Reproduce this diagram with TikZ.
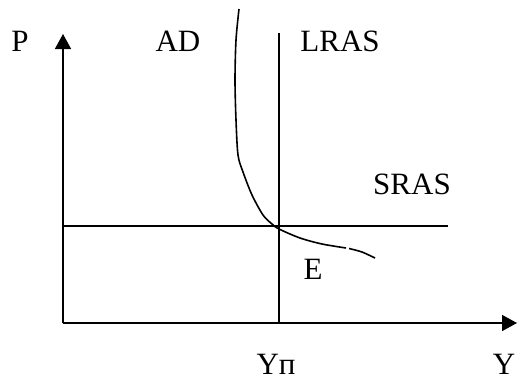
\documentclass[tikz,border=0pt]{standalone}
\usepackage{fontspec}
\setmainfont{Liberation Serif}
\usepackage{tikz}
\usetikzlibrary{arrows.meta}

\tikzset{
  lbl/.style={anchor=base, inner sep=0pt, font=\fontsize{31}{36}\selectfont},
  axis/.style={line width=1.6pt, -{Triangle[length=15pt,width=16pt]}},
  plain/.style={line width=1.6pt},
  adcurve/.style={line width=1.6pt}
}

\begin{document}
\begin{tikzpicture}[x=1pt,y=-1pt]
\useasboundingbox (0,0) rectangle (517,381);

% axes
\coordinate (O) at (63,323);
\coordinate (Ptop) at (63,34);
\coordinate (Yend) at (517,323);
\draw[axis] (O) -- (Ptop);
\draw[axis] (O) -- (Yend);

% LRAS and SRAS
\coordinate (lrasTop) at (279,33);
\coordinate (lrasBot) at (279,323);
\coordinate (srasL) at (63,226);
\coordinate (srasR) at (448,226);
\draw[plain] (lrasTop) -- (lrasBot);
\draw[plain] (srasL) -- (srasR);

% AD curve
\draw[adcurve] plot[smooth] coordinates {(239,9) (236,40) (235,80) (236,120) (238,155) (243,172) (252,195) (263,215) (272,224) (279,229) (300,238) (322,244) (346,248)};
\draw[adcurve] plot[smooth] coordinates {(349,248.5) (362,252) (375,258)};

% labels
\node[lbl] (pLbl) at (20,51) {P};
\node[lbl] (adLbl) at (178,51) {AD};
\node[lbl] (lrasLbl) at (340,51) {LRAS};
\node[lbl] (srasLbl) at (412,194) {SRAS};
\node[lbl] (eLbl) at (313,279) {E};
\node[lbl] (ypLbl) at (276,374) {Yп};
\node[lbl] (yLbl) at (504,374) {Y};
\end{tikzpicture}
\end{document}
